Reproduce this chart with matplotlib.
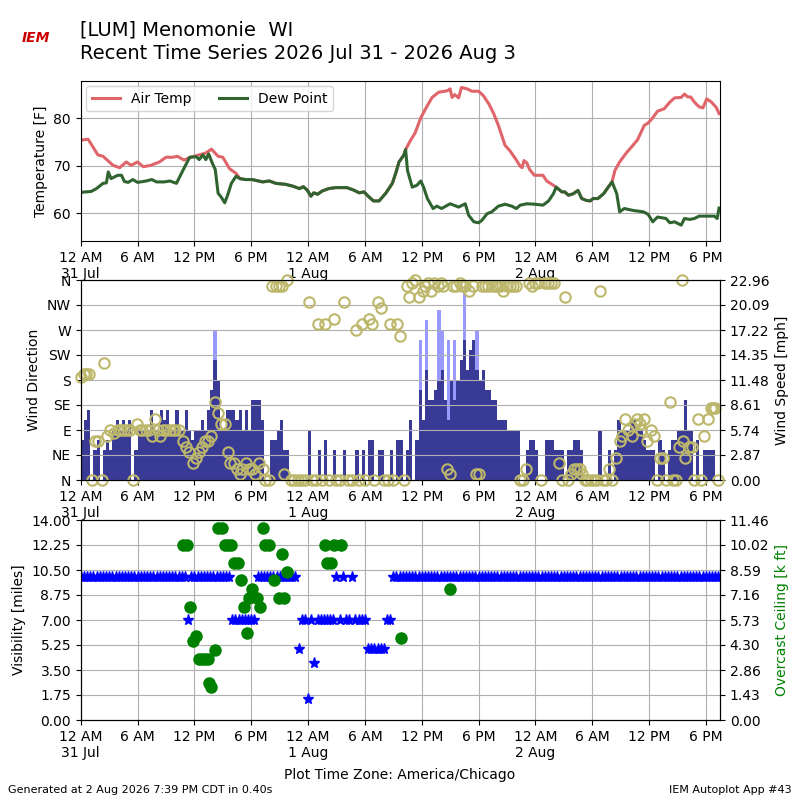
import numpy as np
import matplotlib
matplotlib.use("Agg")
import matplotlib.pyplot as plt

# ---------------- data (hours since 12 AM 31 Jul) ----------------
temp_h = [0, 0.77, 1.8, 2.35, 3.4, 4.1, 4.8, 5.3, 6.0, 6.6, 7.4, 8.3, 9.0, 9.7, 10.2, 10.9,
          11.6, 12.5, 13.2, 13.8, 14.5, 15.0, 15.7, 16.4, 16.8,
          17.4, 18.1, 19.2, 19.9, 20.6, 21.6, 22.4, 23.1, 23.5, 23.9, 24.3, 24.6, 25.0, 25.5,
          26.2, 26.9, 28.1, 28.8, 29.4, 29.9, 30.4, 30.9, 31.5, 32.2, 32.9, 33.3, 33.6, 34.1,
          34.3, 34.8, 35.3, 35.9, 36.6, 37.1, 37.8, 38.7, 39.0, 39.2, 39.5, 39.9, 40.2, 40.8,
          41.3, 42.0, 42.5, 43.1, 43.6, 44.1, 44.8, 45.3, 45.9, 46.4, 46.6, 46.8, 47.1, 47.4,
          47.9, 48.8, 49.2, 49.9, 50.2,
          50.8, 51.1, 51.5, 52.0, 52.5, 52.9, 53.4, 53.8, 54.1, 54.6, 55.2, 55.7, 56.1,
          56.4, 56.9, 57.6, 58.3, 58.8, 59.5, 59.9, 60.4, 60.9, 61.6, 62.2, 62.7, 63.4, 63.75,
          64.1, 64.4, 64.8, 65.3, 65.7, 66.1, 66.6, 67.1, 67.4]
temp_f = [75.4, 75.6, 72.3, 72.0, 70.1, 69.6, 70.8, 70.1, 70.8, 69.8, 70.1, 70.8, 71.8, 71.8, 72.0, 71.2,
          71.8, 72.3, 72.7, 73.5, 72.0, 71.8, 69.4, 68.4, 67.3,
          67.1, 67.1, 66.6, 66.8, 66.3, 66.1, 65.7, 65.2, 65.6, 64.9, 63.6, 64.3, 64.0, 64.7,
          65.2, 65.4, 65.4, 64.9, 64.3, 64.5, 63.5, 62.6, 62.6, 64.2, 66.3, 68.7, 70.8, 72.2,
          73.4, 75.3, 76.9, 80.1, 82.7, 84.4, 85.5, 85.8, 86.2, 84.4, 85.0, 84.3, 86.5, 86.2,
          85.7, 85.7, 84.8, 83.0, 81.0, 78.5, 74.3, 73.2, 71.5, 69.9, 69.6, 71.1, 70.6, 69.2,
          68.0, 68.0, 66.8, 65.9, 65.5,
          64.5, 64.5, 63.8, 64.1, 64.8, 63.1, 62.7, 62.6, 63.1, 63.1, 64.1, 65.5, 66.6,
          69.0, 70.8, 72.7, 74.3, 75.5, 78.5, 79.0, 80.1, 81.5, 82.0, 83.4, 84.3, 84.4, 85.1,
          84.5, 84.5, 83.4, 82.4, 82.2, 84.1, 83.4, 82.3, 81.0]

dwpt_h = [0, 1.1, 1.65, 2.35, 2.7, 2.9, 3.2, 3.9, 4.3, 4.6, 5.0, 5.5, 6.0, 6.9, 7.5, 8.0, 8.8, 9.4,
          10.1, 10.8, 11.5, 12.2, 12.5, 12.9, 13.2, 13.5, 13.9, 14.2, 14.5, 14.8, 15.2, 15.5, 15.9,
          16.4, 16.8, 17.4, 18.1, 19.2, 19.9, 20.6, 21.6, 22.4, 23.1, 23.5, 23.9, 24.3, 24.6, 25.0,
          25.5, 26.2, 26.9, 28.1, 28.8, 29.4, 29.9, 30.4, 30.9, 31.5, 32.2, 32.9, 33.3, 33.6, 34.1,
          34.3, 34.5, 35.0, 35.5, 35.9, 36.2, 36.6, 37.2, 37.6, 38.1, 39.0, 39.9, 40.6, 40.95, 41.5,
          42.0, 42.35, 42.9, 43.4, 44.1, 44.8, 45.5, 46.0, 46.4, 47.1, 48.0, 48.8, 49.4, 49.9, 50.2,
          50.8, 51.1, 51.5, 52.0, 52.5, 52.9, 53.4, 53.8, 54.1, 54.6, 55.2, 55.7, 56.1, 56.6, 56.9,
          57.4, 58.3, 59.4, 59.9, 60.4, 60.9, 61.8, 62.2, 62.7, 63.4, 63.75, 64.3, 64.8, 65.3, 66.2,
          66.9, 67.2, 67.4]
dwpt_f = [64.4, 64.6, 65.2, 66.3, 66.4, 68.7, 67.3, 68.0, 68.0, 66.7, 66.5, 67.1, 66.5, 66.8, 67.1,
          66.6, 66.6, 66.8, 66.3, 69.1, 71.8, 71.9, 71.3, 72.3, 71.3, 72.5, 70.5, 69.2, 64.2, 63.5,
          62.2, 63.8, 66.3, 67.8, 67.3, 67.1, 67.1, 66.6, 66.8, 66.3, 66.1, 65.7, 65.2, 65.6, 64.9,
          63.6, 64.3, 64.0, 64.7, 65.2, 65.4, 65.4, 64.9, 64.3, 64.5, 63.5, 62.6, 62.6, 64.2, 66.3,
          68.7, 70.8, 72.2, 73.4, 69.0, 65.5, 65.9, 66.8, 65.5, 63.1, 61.0, 61.5, 61.0, 62.0, 61.3,
          62.0, 59.6, 58.2, 58.0, 58.5, 59.9, 60.3, 61.5, 61.9, 61.5, 61.0, 61.7, 62.0, 61.9, 61.7,
          62.6, 64.1, 65.5, 64.5, 64.5, 63.8, 64.1, 64.8, 63.1, 62.7, 62.6, 63.1, 63.1, 64.1, 65.5,
          66.6, 64.1, 60.3, 61.0, 60.6, 60.3, 59.8, 58.2, 59.2, 58.9, 58.0, 58.2, 57.5, 58.9, 58.7,
          58.9, 59.4, 59.4, 59.4, 58.9, 61.1]

# wind speed [mph], one value every 20 minutes starting 12 AM 31 Jul
sknt_mph = [4.6, 6.9, 8.05, 0, 3.45, 4.6, 0, 3.45, 4.6, 3.45, 5.75, 6.9, 5.75, 6.9, 5.75, 6.9,
            0, 3.45, 5.75, 5.75, 5.75, 5.75, 8.05, 5.75, 5.75, 8.05, 6.9, 8.05, 5.75, 5.75, 8.05,
            5.75, 5.75, 8.05, 5.75, 4.6, 5.75, 5.75, 6.9, 5.75, 8.05, 10.35, 13.8, 11.5, 5.75,
            5.75, 8.05, 8.05, 8.05, 6.9, 8.05, 5.75, 8.05, 5.75, 9.2, 9.2, 9.2, 6.9, 0, 0, 4.6,
            4.6, 5.75, 6.9, 3.45, 3.45, 0, 0, 0, 0, 0, 0, 5.75, 0, 0, 3.45, 0, 4.6, 0, 0, 3.45,
            0, 0, 3.45, 0, 0, 0, 3.45, 0, 3.45, 0, 4.6, 4.6, 0, 3.45, 3.45, 0, 0, 3.45, 0, 4.6,
            4.6, 0, 3.45, 6.9, 0, 4.6, 10.35, 6.9, 12.6, 9.2, 9.2, 10.35, 11.5, 12.6, 9.2, 6.9,
            11.5, 9.2, 11.5, 13.8, 16.1, 12.6, 14.9, 16.1, 12.6, 11.5, 12.6, 10.35, 10.35, 9.2,
            9.2, 6.9, 6.9, 6.9, 5.75, 5.75, 5.75, 5.75, 0, 0, 3.45, 4.6, 4.6, 3.45, 0, 0, 4.6,
            4.6, 4.6, 3.45, 3.45, 3.45, 0, 3.45, 3.45, 4.6, 4.6, 3.45, 0, 0, 0, 0, 0, 5.75, 0,
            0, 3.45, 0, 3.45, 6.9, 5.75, 5.75, 5.75, 6.9, 6.9, 5.75, 5.75, 4.6, 3.45, 3.45,
            3.45, 0, 4.6, 3.45, 0, 3.45, 4.6, 4.6, 5.75, 5.75, 9.2, 5.75, 5.75, 0, 4.6, 0, 3.45,
            3.45, 3.45, 3.45, 0, 0]
gust_idx = [42, 107, 109, 113, 114, 116, 118, 121, 125]
gust_mph = [17.2, 16.1, 18.4, 19.5, 17.2, 16.1, 16.1, 21.8, 17.2]

drct_h = [0.0, 0.3, 0.6, 0.9, 1.2, 1.5, 1.8, 2.2, 2.5, 2.8, 3.1, 3.5, 3.9, 4.2, 4.6, 4.9, 5.2,
          5.5, 5.9, 6.2, 6.5, 6.9, 7.2, 7.5, 7.8, 8.1, 8.4, 8.7, 9.0, 9.4, 9.7, 10.0, 10.4, 10.8,
          11.1, 11.4, 11.8, 12.2, 12.5, 12.8, 13.1, 13.4, 13.8, 14.2, 14.5, 14.8, 15.2, 15.5,
          15.8, 16.2, 16.5, 16.8, 17.0, 17.4, 17.75, 18.1, 18.4, 18.8, 19.2, 19.5, 19.9, 20.2,
          20.6, 20.9, 21.2, 21.5, 21.8, 22.2, 22.5, 22.9, 23.3, 23.7, 24.1, 24.4, 24.8, 25.1,
          25.5, 25.8, 26.2, 26.7, 27.0, 27.4, 27.8, 28.2, 28.6, 29.1, 29.4, 29.7, 30.0, 30.4,
          30.7, 31.0, 31.4, 31.75, 32.0, 32.4, 32.7, 33.0, 33.4, 33.75, 34.1, 34.4, 34.7, 35.0,
          35.3, 35.75, 36.1, 36.3, 36.7, 37.0, 37.3, 37.7, 38.0, 38.3, 38.7, 39.0, 39.3, 39.6,
          40.0, 40.3, 40.6, 41.0, 41.4, 41.7, 42.0, 42.4, 42.7, 43.0, 43.4, 43.7, 44.0, 44.3,
          44.6, 45.0, 45.3, 45.6, 46.0, 46.4, 46.7, 47.0, 47.3, 47.6, 48.0, 48.3, 48.6, 49.0,
          49.3, 49.7, 50.0, 50.5, 50.8, 51.1, 51.5, 51.8, 52.1, 52.4, 52.7, 52.9, 53.2, 53.5,
          53.9, 54.2, 54.5, 54.8, 55.1, 55.5, 55.8, 56.1, 56.5, 56.9, 57.2, 57.5, 57.8, 58.2,
          58.5, 58.7, 59.0, 59.2, 59.5, 59.8, 60.2, 60.5, 60.8, 61.2, 61.5, 61.8, 62.2, 62.5,
          62.9, 63.2, 63.5, 63.6, 63.8, 64.2, 64.5, 64.8, 65.2, 65.5, 65.8, 66.2, 66.5, 66.8,
          67.0, 67.3]
drct_deg = [185, 190, 190, 190, 0, 70, 70, 0, 210, 80, 90, 85, 90, 90, 90, 90, 90,
            0, 100, 90, 90, 90, 90, 80, 110, 90, 80, 90, 90, 90, 90, 90, 90, 70,
            60, 50, 30, 40, 50, 60, 70, 70, 80, 140, 120, 100, 100, 50,
            30, 30, 20, 10, 20, 30, 20, 20, 10, 30, 20, 0, 0, 350,
            350, 350, 350, 10, 360, 0, 0, 0, 0, 0, 320, 0, 0, 280,
            0, 280, 0, 290, 0, 0, 320, 0, 0, 270, 0, 280, 0, 290,
            280, 0, 320, 310, 0, 0, 280, 0, 280, 260, 0, 350, 330, 355,
            360, 330, 340, 350, 355, 340, 355, 350, 355, 350, 20, 10, 350, 350,
            355, 350, 350, 340, 350, 10, 10, 350, 350, 350, 350, 350, 350, 350,
            340, 350, 350, 350, 350, 0, 0, 20, 355, 350, 355, 355, 0, 355,
            355, 355, 355, 30, 0, 330, 0, 10, 20, 20, 20, 10, 0, 0,
            0, 0, 0, 340, 0, 0, 20, 0, 40, 70, 80, 110, 90, 80,
            100, 110, 100, 90, 110, 70, 90, 80, 0, 40, 40, 0, 140, 0,
            0, 60, 360, 70, 40, 60, 60, 0, 110, 0, 80, 110, 130, 130,
            130, 0]

# visibility [miles], every 20 minutes starting 12 AM 31 Jul
vsby = ([10] * 34 + [7] + [10] * 13 + [7] * 8 + [10] * 13 + [5, 7, 7, 1.5, 7, 4] +
        [7] * 6 + [10, 7, 10, 7, 7, 10, 7, 7, 7, 7] + [5] * 6 + [7, 7] + [10] * 105)
ceil_h = [10.8, 11.2, 11.5, 11.8, 12.2, 12.5, 12.8, 13.1, 13.4, 13.5, 13.8, 14.2, 14.5, 14.9,
          15.2, 15.5, 15.9, 16.2, 16.6, 16.9, 17.2, 17.5, 17.8, 18.1, 18.6, 18.9, 19.2, 19.5,
          19.9, 20.4, 20.9, 21.2, 21.5, 21.8, 25.8, 26.0, 26.4, 26.7, 27.5, 33.8, 39.0]
ceil_kft = [10.0, 10.0, 6.5, 4.5, 4.8, 3.5, 3.5, 3.5, 3.5, 2.1, 1.9, 4.0, 11.0, 11.0,
            10.0, 10.0, 10.0, 9.0, 9.0, 8.0, 6.5, 5.0, 7.0, 7.5, 7.0, 6.5, 11.0, 10.0,
            10.0, 8.0, 7.0, 9.5, 7.0, 8.5, 10.0, 9.0, 9.0, 10.0, 10.0, 4.7, 7.5]

xtick_pos = list(range(0, 67, 6))
xtick_labels = ["12 AM\n31 Jul", "6 AM", "12 PM", "6 PM", "12 AM\n1 Aug", "6 AM", "12 PM",
                "6 PM", "12 AM\n2 Aug", "6 AM", "12 PM", "6 PM"]
dir_labels = ["N", "NE", "E", "SE", "S", "SW", "W", "NW", "N"]

# ---------------- figure ----------------
plt.rcParams["font.family"] = ["DejaVu Sans"]
fig = plt.figure(figsize=(8, 8), dpi=100)
L, W = 0.101, 0.799
XMAX = 67.5


def fmt_x(ax):
    ax.set_xlim(0, XMAX)
    ax.set_xticks(xtick_pos)
    ax.set_xticklabels(xtick_labels)


# top panel
ax1 = fig.add_axes([L, 0.699, W, 0.2])
ax1.plot(temp_h, temp_f, color="#e0656a", lw=2.2, label="Air Temp")
ax1.plot(dwpt_h, dwpt_f, color="#2f6430", lw=2.2, label="Dew Point")
ax1.set_ylim(54.2, 87.9)
ax1.set_yticks([60, 70, 80])
ax1.set_ylabel("Temperature [F]")
ax1.grid(True)
ax1.legend(loc="upper left", ncol=2, borderaxespad=0.4)
fmt_x(ax1)

# middle panel: bars (speed) and circles (direction)
ax2 = fig.add_axes([L, 0.4, W, 0.25])
t = np.arange(len(sknt_mph)) / 3.0
gt = np.array(gust_idx) / 3.0
ax2.bar(gt, gust_mph, width=1 / 3.0, align="edge", color="#9999ff", linewidth=0)
ax2.bar(t, sknt_mph, width=1 / 3.0, align="edge", color="#393996", linewidth=0)
fmt_x(ax2)

ax2b = ax2.twinx()
ax2b.plot(drct_h, drct_deg, "o", mfc="none", mec="#bdb76b", ms=7.5, mew=1.5, clip_on=False)
ax2b.set_ylim(0, 360)
ax2b.set_yticks(range(0, 361, 45))
ax2b.set_yticklabels(dir_labels)
ax2b.yaxis.tick_left()
ax2b.yaxis.set_label_position("left")
ax2b.set_ylabel("Wind Direction")
ax2b.grid(True)
fmt_x(ax2b)

ax2.set_ylim(0, 22.96)
ax2.set_yticks(np.linspace(0, 22.96, 9))
ax2.set_yticklabels(["%.2f" % v for v in np.linspace(0, 22.96, 9)])
ax2.yaxis.tick_right()
ax2.yaxis.set_label_position("right")
ax2.set_ylabel("Wind Speed [mph]")

# bottom panel: visibility and ceiling
ax3 = fig.add_axes([L, 0.1, W, 0.25])
tv = np.arange(len(vsby)) / 3.0
ax3.plot(tv, vsby, "*", color="blue", ms=8, linestyle="none")
ax3.set_ylim(0, 14)
ax3.set_yticks(np.arange(0, 14.01, 1.75))
ax3.set_yticklabels(["%.2f" % v for v in np.arange(0, 14.01, 1.75)])
ax3.set_ylabel("Visibility [miles]")
ax3.grid(True)
fmt_x(ax3)

ax3b = ax3.twinx()
ax3b.plot(ceil_h, ceil_kft, "o", color="green", ms=8, linestyle="none")
cmax = 11.456
ax3b.set_ylim(0, cmax)
ax3b.set_yticks(np.linspace(0, cmax, 9))
ax3b.set_yticklabels(["%.2f" % v for v in np.linspace(0, cmax, 9)])
ax3b.set_ylabel("Overcast Ceiling [k ft]", color="green")
fmt_x(ax3b)

# texts
fig.text(0.1, 0.975, "[LUM] Menomonie  WI", fontsize=14, va="top")
fig.text(0.1, 0.945, "Recent Time Series 2026 Jul 31 - 2026 Aug 3", fontsize=14, va="top")
fig.text(0.045, 0.952, "IEM", fontsize=10, color="#cc0000", fontstyle="italic",
         fontweight="bold", ha="center", va="center")
fig.text(0.5, 0.031, "Plot Time Zone: America/Chicago", ha="center", va="center", fontsize=10)
fig.text(0.01, 0.013, "Generated at 2 Aug 2026 7:39 PM CDT in 0.40s", fontsize=8, va="center")
fig.text(0.99, 0.013, "IEM Autoplot App #43", fontsize=8, va="center", ha="right")

fig.savefig("out.png", dpi=100)
